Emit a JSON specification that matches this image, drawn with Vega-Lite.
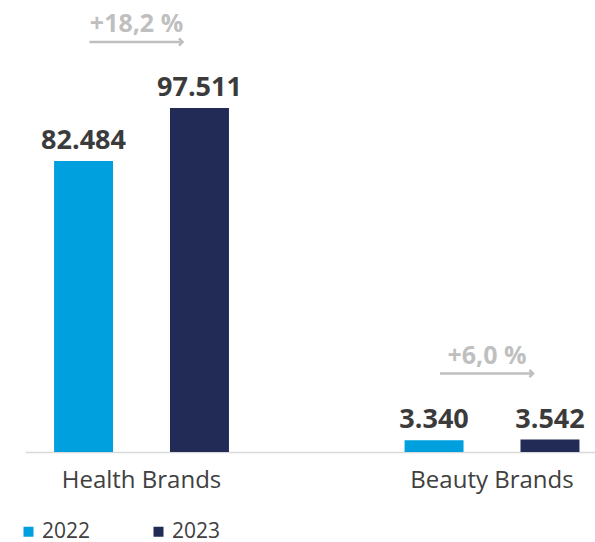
{
  "$schema": "https://vega.github.io/schema/vega-lite/v6.json",
  "width": 570,
  "height": 441,
  "padding": {"left": 18, "top": 11, "right": 0, "bottom": 0},
  "background": "white",
  "config": {"view": {"stroke": null}, "font": "Open Sans"},
  "datasets": {
    "bars": [
      {"group": "Health Brands", "year": "2022", "value": 82484, "label": "82.484"},
      {"group": "Health Brands", "year": "2023", "value": 97511, "label": "97.511"},
      {"group": "Beauty Brands", "year": "2022", "value": 3340, "label": "3.340"},
      {"group": "Beauty Brands", "year": "2023", "value": 3542, "label": "3.542"}
    ],
    "growth": [
      {"group": "Health Brands", "top": 97511, "pct": "+18,2 %"},
      {"group": "Beauty Brands", "top": 3542, "pct": "+6,0 %"}
    ]
  },
  "layer": [
    {
      "data": {"name": "bars"},
      "mark": {"type": "bar"},
      "encoding": {
        "x": {
          "field": "group", "type": "nominal", "sort": ["Health Brands", "Beauty Brands"],
          "scale": {"paddingInner": 0.4124, "paddingOuter": 0.0193, "align": 1},
          "axis": {"title": null, "labelAngle": 0, "ticks": false, "domainColor": "#d9d9d9", "domainWidth": 1.5,
                   "labelFontSize": 24, "labelColor": "#404040", "labelPadding": 16, "labelFont": "Open Sans"}
        },
        "xOffset": {"field": "year", "type": "nominal", "scale": {"paddingInner": 0.4914, "paddingOuter": 0.134}},
        "y": {"field": "value", "type": "quantitative", "scale": {"domain": [0, 125000], "nice": false, "zero": true}, "axis": null},
        "color": {
          "field": "year", "type": "nominal",
          "scale": {"domain": ["2022", "2023"], "range": ["#00A0DF", "#212B55"]},
          "legend": {"title": null, "orient": "none", "legendX": -7, "legendY": 510, "direction": "horizontal",
                     "symbolType": "square", "symbolSize": 100, "symbolStrokeWidth": 0, "labelFontSize": 21,
                     "labelColor": "#404040", "labelOffset": 3, "columnPadding": 57, "padding": 0, "labelFont": "Open Sans"}
        }
      }
    },
    {
      "data": {"name": "bars"},
      "mark": {"type": "text", "fontSize": 27, "fontWeight": "bold", "color": "#3b3b3b", "baseline": "alphabetic", "dy": -12, "font": "Open Sans"},
      "encoding": {
        "x": {"field": "group", "type": "nominal", "sort": ["Health Brands", "Beauty Brands"], "title": null},
        "xOffset": {"field": "year", "type": "nominal"},
        "y": {"field": "value", "type": "quantitative", "title": null, "scale": {"domain": [0, 125000], "nice": false}},
        "text": {"field": "label"}
      }
    },
    {
      "data": {"name": "growth"},
      "mark": {"type": "rule", "color": "#bfbfbf", "strokeWidth": 2.5, "xOffset": -52, "x2Offset": 41, "yOffset": -66},
      "encoding": {
        "x": {"field": "group", "type": "nominal", "sort": ["Health Brands", "Beauty Brands"], "title": null},
        "x2": {"field": "group"},
        "y": {"field": "top", "type": "quantitative", "title": null, "scale": {"domain": [0, 125000], "nice": false}}
      }
    },
    {
      "data": {"name": "growth"},
      "mark": {"type": "point", "shape": "M-1,-1L0,0L-1,1", "filled": false, "color": "#bfbfbf", "strokeWidth": 2.5, "size": 50, "opacity": 1, "xOffset": 41, "yOffset": -66},
      "encoding": {
        "x": {"field": "group", "type": "nominal", "sort": ["Health Brands", "Beauty Brands"], "title": null},
        "y": {"field": "top", "type": "quantitative", "title": null, "scale": {"domain": [0, 125000], "nice": false}}
      }
    },
    {
      "data": {"name": "growth"},
      "mark": {"type": "text", "fontSize": 25, "fontWeight": "bold", "color": "#bfbfbf", "baseline": "alphabetic", "dy": -76, "dx": -5, "font": "Open Sans"},
      "encoding": {
        "x": {"field": "group", "type": "nominal", "sort": ["Health Brands", "Beauty Brands"], "title": null},
        "y": {"field": "top", "type": "quantitative", "title": null, "scale": {"domain": [0, 125000], "nice": false}},
        "text": {"field": "pct"}
      }
    }
  ]
}
